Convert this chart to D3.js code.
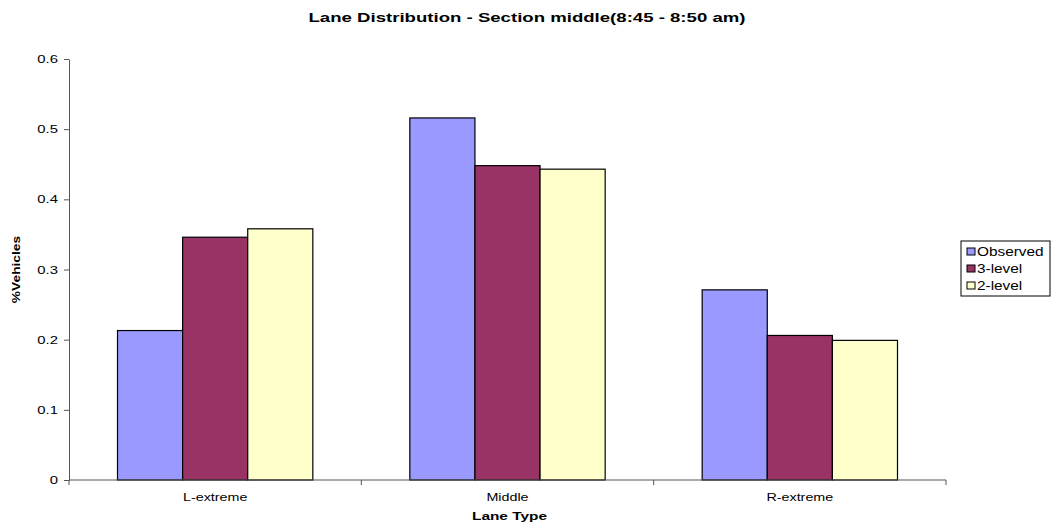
<!DOCTYPE html>
<html>
<head>
<meta charset="utf-8">
<script src="https://cdn.jsdelivr.net/npm/d3@7"></script>
<style>
  html, body { margin: 0; padding: 0; background: #fff; }
  svg { display: block; font-family: "Liberation Sans", Arial, sans-serif; }
</style>
</head>
<body>
<svg id="chart" width="1052" height="526"></svg>
<script>
// Lane distribution data
const categories = ["L-extreme", "Middle", "R-extreme"];
const seriesNames = ["Observed", "3-level", "2-level"];
const observed = [0.213, 0.516, 0.271];
const level3 = [0.346, 0.448, 0.206];
const level2 = [0.358, 0.443, 0.199];
const yTicks = [0, 0.1, 0.2, 0.3, 0.4, 0.5, 0.6];
const colors = ["#9999ff", "#993366", "#ffffcc"];

const seriesValues = [observed, level3, level2];
const rows = categories.map((c, i) => ({
  category: c,
  values: seriesNames.map((s, j) => ({ series: s, value: seriesValues[j][i], color: colors[j] }))
}));

// Widen text horizontally by a factor (the chart uses a wide, stretched lettering)
function widen(sel, f) {
  sel.each(function () {
    const w = this.getComputedTextLength();
    this.setAttribute("textLength", w * f);
    this.setAttribute("lengthAdjust", "spacingAndGlyphs");
  });
}

const svg = d3.select("#chart");
const plot = { left: 69, right: 946, top: 59, bottom: 480 };

const x0 = d3.scaleBand().domain(categories).range([plot.left, plot.right]).padding(0);
const x1 = d3.scaleBand().domain(seriesNames).range([0, x0.bandwidth()])
  .paddingInner(0).paddingOuter(0.745);
const y = d3.scaleLinear().domain([0, 0.6]).range([plot.bottom, plot.top]);

// Title
svg.append("text")
  .attr("x", 527).attr("y", 22)
  .attr("text-anchor", "middle")
  .style("font-size", "13px").style("font-weight", "bold")
  .text("Lane Distribution - Section middle(8:45 - 8:50 am)")
  .call(widen, 1.43);

// Bars
const groups = svg.append("g").selectAll("g")
  .data(rows).join("g")
  .attr("transform", d => `translate(${x0(d.category)},0)`);

groups.selectAll("rect")
  .data(d => d.values).join("rect")
  .attr("x", d => x1(d.series))
  .attr("y", d => y(d.value))
  .attr("width", x1.bandwidth())
  .attr("height", d => y(0) - y(d.value))
  .attr("fill", d => d.color)
  .attr("stroke", "#000")
  .attr("stroke-width", 1.2);

// Y axis
const yAxis = svg.append("g")
  .attr("transform", `translate(${plot.left},0)`)
  .call(d3.axisLeft(y).tickValues(yTicks).tickSize(5).tickSizeOuter(0)
    .tickFormat(d => d === 0 ? "0" : d3.format(".1f")(d)));
yAxis.select(".domain").attr("stroke", "#555");
yAxis.selectAll(".tick line").attr("stroke", "#555");
yAxis.selectAll(".tick text")
  .attr("x", -11)
  .style("font-size", "11px").style("font-family", "Liberation Sans, Arial, sans-serif")
  .attr("fill", "#000")
  .call(widen, 1.35);

// X axis: line along zero, tick marks at category boundaries
const xg = svg.append("g");
xg.append("line")
  .attr("x1", plot.left).attr("x2", plot.right)
  .attr("y1", y(0)).attr("y2", y(0))
  .attr("stroke", "#555").attr("stroke-width", 1);
const boundaries = categories.map(c => x0(c)).concat([x0(categories[categories.length - 1]) + x0.bandwidth()]);
xg.selectAll("line.tk")
  .data(boundaries).join("line")
  .attr("class", "tk")
  .attr("x1", d => d).attr("x2", d => d)
  .attr("y1", y(0)).attr("y2", y(0) + 5)
  .attr("stroke", "#555");
xg.selectAll("text.cat")
  .data(categories).join("text")
  .attr("class", "cat")
  .attr("x", d => x0(d) + x0.bandwidth() / 2)
  .attr("y", 501)
  .attr("text-anchor", "middle")
  .style("font-size", "11px")
  .text(d => d)
  .call(widen, 1.3);

// Axis titles
svg.append("text")
  .attr("x", x0(categories[1]) + x0.bandwidth() / 2 + 2).attr("y", 520)
  .attr("text-anchor", "middle")
  .style("font-size", "11px").style("font-weight", "bold")
  .text("Lane Type")
  .call(widen, 1.4);

svg.append("text")
  .attr("transform", `translate(20,${(plot.top + plot.bottom) / 2}) rotate(-90)`)
  .attr("text-anchor", "middle")
  .style("font-size", "11px").style("font-weight", "bold")
  .text("%Vehicles")
  .call(widen, 1.25);

// Legend
const legend = svg.append("g").attr("transform", "translate(961,241)");
legend.append("rect")
  .attr("x", 0).attr("y", 0).attr("width", 89).attr("height", 55)
  .attr("fill", "#fff").attr("stroke", "#000").attr("stroke-width", 1);
const items = legend.selectAll("g.item")
  .data(seriesNames).join("g")
  .attr("class", "item")
  .attr("transform", (d, i) => `translate(6,${11 + i * 17})`);
items.append("rect")
  .attr("x", 0).attr("y", -4).attr("width", 8).attr("height", 7)
  .attr("fill", (d, i) => colors[i]).attr("stroke", "#000").attr("stroke-width", 1);
items.append("text")
  .attr("x", 10).attr("y", 4)
  .style("font-size", "12px")
  .text(d => d)
  .call(widen, 1.28);
</script>
</body>
</html>
